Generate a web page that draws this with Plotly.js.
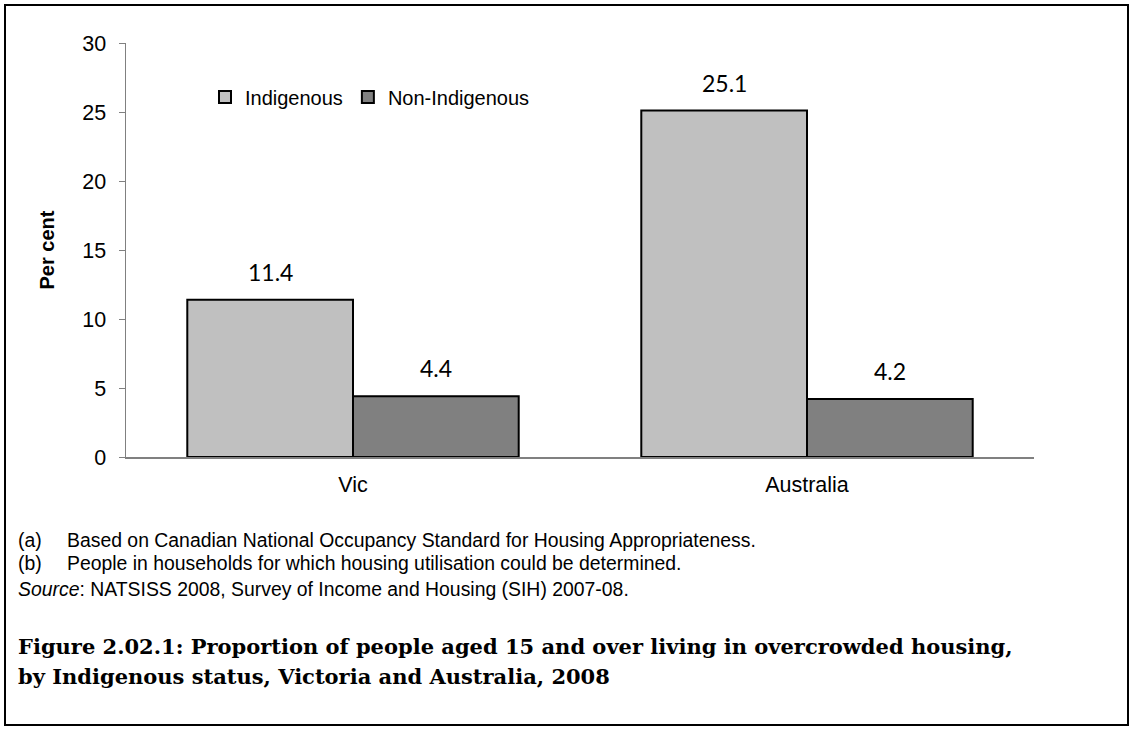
<!DOCTYPE html>
<html>
<head>
<meta charset="utf-8">
<script src="https://cdn.plot.ly/plotly-3.0.1.min.js"></script>
<style>
  html, body { margin: 0; padding: 0; background: #ffffff; }
  #chart { width: 1133px; height: 731px; }
</style>
</head>
<body>
<div id="chart"></div>
<script>
// ---- data ----
const categories = ["Vic", "Australia"];
const seriesNames = ["Indigenous", "Non-Indigenous"];
const indigenous = [11.4, 25.1];
const nonIndigenous = [4.4, 4.2];
const seriesValues = [indigenous, nonIndigenous];
const yTickValues = [0, 5, 10, 15, 20, 25, 30];
const notes = [
  ["(a)", "Based on Canadian National Occupancy Standard for Housing Appropriateness."],
  ["(b)", "People in households for which housing utilisation could be determined."]
];
const sourceText = "<i>Source</i>: NATSISS 2008, Survey of Income and Housing (SIH) 2007-08.";
const captionLines = [
  "Figure 2.02.1: Proportion of people aged 15 and over living in overcrowded housing,",
  "by Indigenous status, Victoria and Australia, 2008"
];

// ---- layout geometry ----
const W = 1133, H = 731;
const M = { l: 126, r: 99, t: 43, b: 274 };
const PW = W - M.l - M.r, PH = H - M.t - M.b;
const px = x => (x - M.l) / PW;
const py = y => (H - M.b - y) / PH;

const fills = ["#c0c0c0", "#808080"];
const bargap = 0.27;
const barW = (1 - bargap) / seriesNames.length;

const traces = seriesNames.map((name, s) => ({
  type: "bar",
  name: name,
  x: categories,
  y: seriesValues[s],
  marker: { color: fills[s], line: { color: "#000000", width: 2 } },
  hoverinfo: "skip"
}));

const annotations = [];
// data labels
seriesValues.forEach((vals, s) => {
  vals.forEach((v, i) => {
    annotations.push({
      x: i - (1 - bargap) / 2 + barW * (s + 0.5),
      y: v, xref: "x", yref: "y",
      text: v.toFixed(1), showarrow: false,
      xanchor: "center", yanchor: "bottom", yshift: 12,
      font: { family: "Lato, 'Open Sans', sans-serif", size: 23, color: "#000000" }
    });
  });
});
// notes
const noteFont = { family: "'Liberation Sans', Arial, sans-serif", size: 19.4, color: "#000000" };
const noteY = [540, 563];
notes.forEach((n, k) => {
  annotations.push({ xref: "paper", yref: "paper", x: px(16), y: py(noteY[k]), xanchor: "left", yanchor: "middle",
    text: n[0], showarrow: false, font: noteFont });
  annotations.push({ xref: "paper", yref: "paper", x: px(65), y: py(noteY[k]), xanchor: "left", yanchor: "middle",
    text: n[1], showarrow: false, font: noteFont });
});
annotations.push({ xref: "paper", yref: "paper", x: px(16), y: py(589), xanchor: "left", yanchor: "middle",
  text: sourceText, showarrow: false, font: noteFont });
// caption
const captionY = [646, 676];
captionLines.forEach((line, k) => {
  annotations.push({ xref: "paper", yref: "paper", x: px(16), y: py(captionY[k]), xanchor: "left", yanchor: "middle",
    text: line, showarrow: false, align: "left",
    font: { family: "'DejaVu Serif', 'Liberation Serif', serif", size: 21, color: "#000000", weight: "bold" } });
});

const layout = {
  width: W, height: H,
  margin: M,
  paper_bgcolor: "#ffffff", plot_bgcolor: "#ffffff",
  barmode: "group", bargap: bargap, bargroupgap: 0,
  font: { family: "'Liberation Sans', Arial, sans-serif", size: 21, color: "#000000" },
  showlegend: true,
  legend: {
    orientation: "h", x: px(205), y: py(97), xanchor: "left", yanchor: "middle",
    bgcolor: "rgba(0,0,0,0)", font: { size: 20, color: "#000000" },
    itemclick: false, itemdoubleclick: false, traceorder: "normal"
  },
  xaxis: {
    type: "category", range: [-0.5, 1.5], fixedrange: true,
    showline: true, linecolor: "#808080", linewidth: 1.5,
    ticks: "", showgrid: false, zeroline: false,
    tickfont: { size: 21.5, color: "#000000" }, ticklabelstandoff: 8
  },
  yaxis: {
    range: [0, 30], tickvals: yTickValues, fixedrange: true,
    showline: true, linecolor: "#808080", linewidth: 1.5,
    ticks: "outside", ticklen: 6, tickcolor: "#808080", tickwidth: 1,
    showgrid: false, zeroline: false,
    tickfont: { size: 21.5, color: "#000000" }, ticklabelstandoff: 8,
    title: { text: "Per cent", standoff: 22, font: { size: 20, color: "#000000", weight: "bold" } }
  },
  shapes: [{
    type: "rect", xref: "paper", yref: "paper",
    x0: px(5), x1: px(1128), y0: py(5), y1: py(725),
    line: { color: "#000000", width: 2 }, fillcolor: "rgba(0,0,0,0)", layer: "below"
  }],
  annotations: annotations
};

Plotly.newPlot("chart", traces, layout, { displayModeBar: false, staticPlot: true });
</script>
</body>
</html>
